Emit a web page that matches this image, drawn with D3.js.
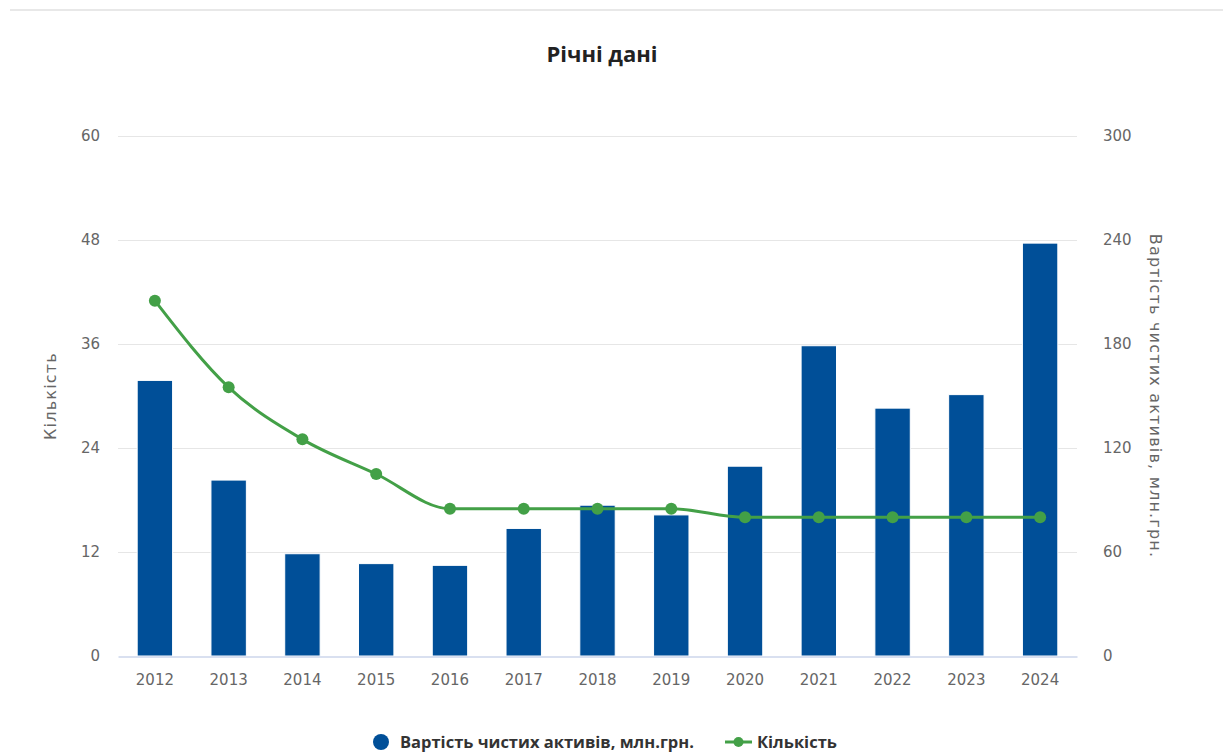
<!DOCTYPE html>
<html lang="uk">
<head>
<meta charset="utf-8">
<title>Річні дані</title>
<script src="https://cdn.jsdelivr.net/npm/d3@7"></script>
<style>
  html, body { margin: 0; padding: 0; background: #ffffff; }
  svg { display: block; }
  .tick-label { font-family: "DejaVu Sans", sans-serif; font-size: 15px; fill: #666666; }
  .axis-title { font-family: "DejaVu Sans", sans-serif; font-size: 16px; fill: #666666; letter-spacing: 1.2px; }
  .chart-title { font-family: "Open Sans", sans-serif; font-size: 22px; font-weight: 700; fill: #222222; }
  .legend-label { font-family: "Open Sans", sans-serif; font-size: 16.5px; font-weight: 700; fill: #333333; }
</style>
</head>
<body>
<svg id="chart" width="1223" height="754"></svg>
<script>
// Annual figures
const years = ["2012", "2013", "2014", "2015", "2016", "2017", "2018", "2019", "2020", "2021", "2022", "2023", "2024"];
// Net asset value, UAH million (right axis, columns)
const netAssets = [159, 101.5, 59, 53.3, 52.3, 73.6, 87, 81.4, 109.5, 179, 143, 150.8, 238.2];
// Number of funds (left axis, spline)
const counts = [41, 31, 25, 21, 17, 17, 17, 17, 16, 16, 16, 16, 16];

const leftTicks = [0, 12, 24, 36, 48, 60];
const rightTicks = [0, 60, 120, 180, 240, 300];

const seriesNames = {
  assets: "Вартість чистих активів, млн.грн.",
  count: "Кількість"
};
const titleText = "Річні дані";

const colors = { bars: "#004f98", line: "#43a047", grid: "#e6e6e6", axis: "#ccd6eb" };

const W = 1223, H = 754;
const plot = { left: 118, right: 1077, top: 136, bottom: 656 };

const svg = d3.select("#chart");

// Thin separator across the top of the page
svg.append("rect")
  .attr("x", 10).attr("y", 9).attr("width", W - 10).attr("height", 2)
  .attr("fill", "#e8e8e8");

// Title
svg.append("text")
  .attr("class", "chart-title")
  .attr("x", 602).attr("y", 62)
  .attr("text-anchor", "middle")
  .text(titleText);

// Scales
const x = d3.scaleBand().domain(years).range([plot.left, plot.right]).paddingInner(0).paddingOuter(0);
const yLeft = d3.scaleLinear().domain([0, 60]).range([plot.bottom, plot.top]);
const yRight = d3.scaleLinear().domain([0, 300]).range([plot.bottom, plot.top]);

// Horizontal gridlines
svg.append("g")
  .selectAll("line")
  .data(leftTicks.slice(1))
  .join("line")
  .attr("x1", plot.left).attr("x2", plot.right)
  .attr("y1", d => Math.round(yLeft(d)) + 0.5)
  .attr("y2", d => Math.round(yLeft(d)) + 0.5)
  .attr("stroke", colors.grid).attr("stroke-width", 1);

// Left axis (count)
const leftAxis = svg.append("g")
  .attr("transform", `translate(${plot.left},0)`)
  .call(d3.axisLeft(yLeft).tickValues(leftTicks).tickSize(0).tickPadding(18));
leftAxis.select(".domain").remove();
leftAxis.selectAll("text").attr("class", "tick-label").attr("font-family", null).attr("font-size", null).attr("fill", null);

// Right axis (net assets)
const rightAxis = svg.append("g")
  .attr("transform", `translate(${plot.right},0)`)
  .call(d3.axisRight(yRight).tickValues(rightTicks).tickSize(0).tickPadding(26));
rightAxis.select(".domain").remove();
rightAxis.selectAll("text").attr("class", "tick-label").attr("font-family", null).attr("font-size", null).attr("fill", null);

// Columns
const barW = x.bandwidth() * 0.48;
svg.append("g")
  .selectAll("rect")
  .data(years.map((y, i) => ({ year: y, value: netAssets[i] })))
  .join("rect")
  .attr("x", d => x(d.year) + (x.bandwidth() - barW) / 2)
  .attr("y", d => yRight(d.value))
  .attr("width", barW)
  .attr("height", d => yRight(0) - yRight(d.value))
  .attr("fill", colors.bars)
  .attr("stroke", "#ffffff")
  .attr("stroke-width", 1);

// Bottom axis
const bottomAxis = svg.append("g")
  .attr("transform", `translate(0,${plot.bottom + 0.5})`)
  .call(d3.axisBottom(x).tickSize(0).tickPadding(18));
bottomAxis.select(".domain").attr("stroke", colors.axis).attr("stroke-width", 1.5);
bottomAxis.selectAll("text").attr("class", "tick-label").attr("font-family", null).attr("font-size", null).attr("fill", null);

// Count spline
const pts = years.map((y, i) => ({ year: y, value: counts[i] }));
const line = d3.line()
  .x(d => x(d.year) + x.bandwidth() / 2)
  .y(d => yLeft(d.value))
  .curve(d3.curveMonotoneX);

svg.append("path")
  .datum(pts)
  .attr("d", line)
  .attr("fill", "none")
  .attr("stroke", colors.line)
  .attr("stroke-width", 3);

svg.append("g")
  .selectAll("circle")
  .data(pts)
  .join("circle")
  .attr("cx", d => x(d.year) + x.bandwidth() / 2)
  .attr("cy", d => yLeft(d.value))
  .attr("r", 6)
  .attr("fill", colors.line);

// Axis titles
svg.append("text")
  .attr("class", "axis-title")
  .attr("transform", `translate(56,${(plot.top + plot.bottom) / 2}) rotate(-90)`)
  .attr("text-anchor", "middle")
  .text(seriesNames.count);

svg.append("text")
  .attr("class", "axis-title")
  .attr("transform", `translate(1150,${(plot.top + plot.bottom) / 2}) rotate(90)`)
  .attr("text-anchor", "middle")
  .text(seriesNames.assets);

// Legend
const legend = svg.append("g").attr("transform", "translate(0,742)");
legend.append("circle").attr("cx", 381).attr("cy", 0).attr("r", 8).attr("fill", colors.bars);
legend.append("text").attr("class", "legend-label").attr("x", 400).attr("y", 6).text(seriesNames.assets);
legend.append("line").attr("x1", 725).attr("x2", 752).attr("y1", 0).attr("y2", 0)
  .attr("stroke", colors.line).attr("stroke-width", 3);
legend.append("circle").attr("cx", 738.5).attr("cy", 0).attr("r", 5).attr("fill", colors.line);
legend.append("text").attr("class", "legend-label").attr("x", 757).attr("y", 6).text(seriesNames.count);
</script>
</body>
</html>
